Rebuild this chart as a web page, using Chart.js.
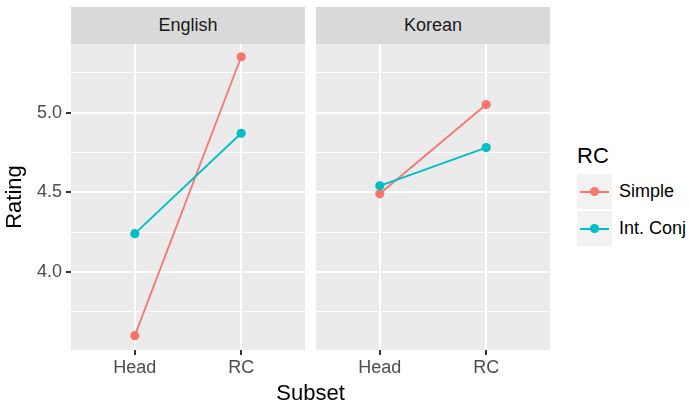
<!DOCTYPE html>
<html>
<head>
<meta charset="utf-8">
<script src="https://cdn.jsdelivr.net/npm/chart.js@4.4.1/dist/chart.umd.min.js"></script>
<style>
  body { margin: 0; background: #fff; font-family: "Liberation Sans", Arial, sans-serif; }
  #wrap { position: relative; width: 689px; height: 402px; overflow: hidden; }
  canvas { position: absolute; top: 44px; }
  .strip { position: absolute; top: 7px; height: 37px; width: 234px; background: #d9d9d9;
           color: #1a1a1a; font-size: 18px; line-height: 37px; text-align: center; }
  #xtitle { position: absolute; left: 71px; width: 479px; top: 380px; text-align: center;
            font-size: 22px; color: #000; }
  #legend { position: absolute; left: 577px; top: 143px; }
  #legend .title { font-size: 22px; color: #000; height: 31px; }
  .key { position: relative; height: 37px; }
  .key .box { position: absolute; left: 0; top: 0; width: 35px; height: 35px; background: #f2f2f2; }
  .key .line { position: absolute; left: 3px; top: 17px; width: 29px; height: 2px; }
  .key .dot { position: absolute; left: 13px; top: 13px; width: 9px; height: 9px; border-radius: 50%; }
  .key .lbl { position: absolute; left: 42px; top: 7px; font-size: 18px; color: #000; white-space: nowrap; }
</style>
</head>
<body>
<div id="wrap">
  <div class="strip" style="left:71px">English</div>
  <div class="strip" style="left:316px">Korean</div>
  <canvas id="en" width="305" height="358" style="left:0"></canvas>
  <canvas id="ko" width="234" height="358" style="left:316px"></canvas>
  <div id="xtitle">Subset</div>
  <div id="legend"><div class="title">RC</div></div>
</div>
<script>
// values
const subsets = ['Head', 'RC'];
const groups = ['Simple', 'Int. Conj'];
const colors = ['#F8766D', '#00BFC4'];
const englishSimple = [3.60, 5.35];
const englishIntConj = [4.24, 4.87];
const koreanSimple = [4.49, 5.05];
const koreanIntConj = [4.54, 4.78];
const yMajor = [4.0, 4.5, 5.0];
const yMinor = [3.75, 4.25, 4.75, 5.25];
const yMin = 3.51, yMax = 5.43;

// grey panel background like ggplot
const panelBg = {
  id: 'panelBg',
  beforeDraw(chart) {
    const a = chart.chartArea, ctx = chart.ctx;
    ctx.save();
    ctx.fillStyle = '#ebebeb';
    ctx.fillRect(a.left, a.top, a.right - a.left, a.bottom - a.top);
    ctx.restore();
  }
};

function toPoints(vals) {
  return vals.map((v, i) => ({ x: i + 1, y: v }));
}

function noPad(s) {
  s.paddingTop = 0; s.paddingBottom = 0; s.paddingLeft = 0; s.paddingRight = 0;
}

function makePanel(id, simple, intConj, showY) {
  const series = [simple, intConj];
  new Chart(document.getElementById(id), {
    type: 'line',
    data: {
      datasets: series.map((vals, i) => ({
        label: groups[i],
        data: toPoints(vals),
        borderColor: colors[i],
        backgroundColor: colors[i],
        borderWidth: 1.8,
        pointRadius: 4.6,
        pointHoverRadius: 4.6,
        pointBorderWidth: 0,
        order: i === 0 ? 1 : 0
      }))
    },
    options: {
      responsive: false,
      animation: false,
      layout: { padding: 0, autoPadding: false },
      plugins: { legend: { display: false }, tooltip: { enabled: false } },
      scales: {
        x: {
          type: 'linear',
          min: 0.4,
          max: 2.6,
          afterBuildTicks: s => { s.ticks = subsets.map((_, i) => ({ value: i + 1 })); },
          afterFit: s => { s.height = 52; noPad(s); },
          border: { display: false },
          grid: { color: '#fff', lineWidth: 2, tickColor: '#333', tickWidth: 2, tickLength: 5 },
          ticks: {
            callback: v => subsets[v - 1],
            color: '#4d4d4d',
            font: { family: 'Liberation Sans', size: 18 },
            padding: 2,
            maxRotation: 0
          }
        },
        y: {
          min: yMin,
          max: yMax,
          afterBuildTicks: s => {
            s.ticks = yMinor.concat(yMajor).sort((a, b) => a - b).map(v => ({ value: v }));
          },
          afterFit: s => { s.width = showY ? 71 : 0; noPad(s); },
          border: { display: false },
          grid: {
            color: '#fff',
            lineWidth: c => yMajor.includes(c.tick.value) ? 2 : 1,
            drawTicks: showY,
            tickLength: 5,
            tickWidth: 2,
            tickColor: c => yMajor.includes(c.tick.value) ? '#333' : 'rgba(0,0,0,0)'
          },
          ticks: {
            display: showY,
            callback: v => yMajor.includes(v) ? v.toFixed(1) : '',
            color: '#4d4d4d',
            font: { family: 'Liberation Sans', size: 18 },
            padding: 4
          },
          title: {
            display: showY,
            text: 'Rating',
            color: '#000',
            font: { family: 'Liberation Sans', size: 22 },
            padding: 2
          }
        }
      }
    },
    plugins: [panelBg]
  });
}

makePanel('en', englishSimple, englishIntConj, true);
makePanel('ko', koreanSimple, koreanIntConj, false);

// legend keys
const legend = document.getElementById('legend');
groups.forEach((g, i) => {
  const k = document.createElement('div');
  k.className = 'key';
  k.innerHTML = '<div class="box"></div>' +
    '<div class="line" style="background:' + colors[i] + '"></div>' +
    '<div class="dot" style="background:' + colors[i] + '"></div>' +
    '<div class="lbl">' + g + '</div>';
  legend.appendChild(k);
});
</script>
</body>
</html>
